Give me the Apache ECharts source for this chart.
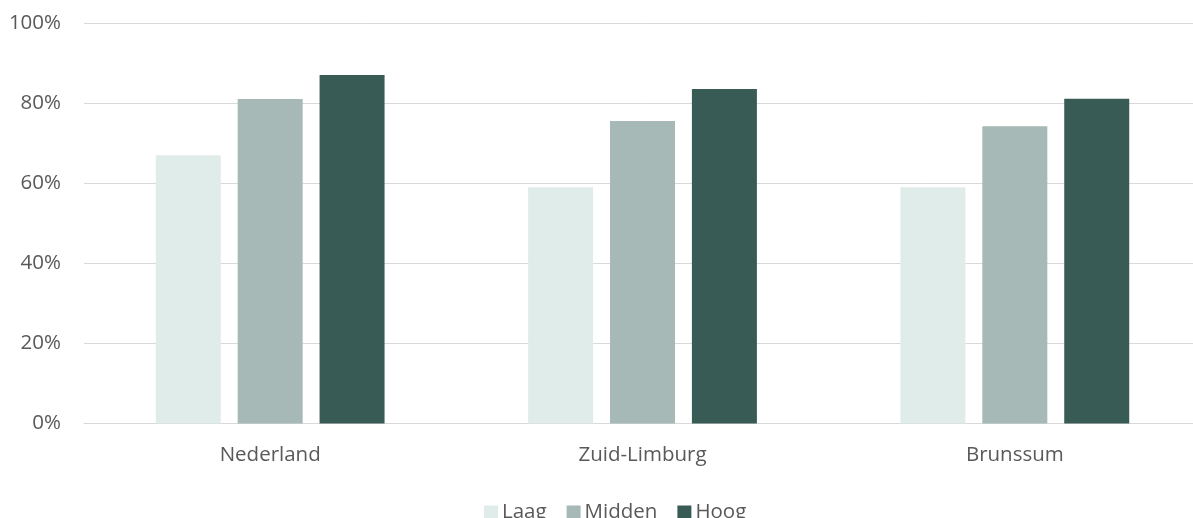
<!DOCTYPE html>
<html><head><meta charset="utf-8">
<script src="https://cdn.jsdelivr.net/npm/echarts@6/dist/echarts.min.js"></script>
<style>html,body{margin:0;padding:0;background:#fff;overflow:hidden;width:1193px;height:518px}#c{width:1201px;height:518px}</style>
</head><body><div id="c"></div>
<script>
const categories = ['Nederland', 'Zuid-Limburg', 'Brunssum'];
const seriesNames = ['Laag', 'Midden', 'Hoog'];
const laag = [67, 59, 59];
const midden = [81, 75.5, 74.2];
const hoog = [87, 83.5, 81.1];
const yTicks = [0, 20, 40, 60, 80, 100];

const colors = ['#E0ECE9', '#A6B9B6', '#395B55'];
const values = [laag, midden, hoog];
const font = 'Open Sans';

const chart = echarts.init(document.getElementById('c'), null, {renderer: 'canvas'});
chart.setOption({
  animation: false,
  grid: {left: 84, right: 0, top: 23, bottom: 94.5, containLabel: false},
  legend: {
    data: seriesNames,
    left: 479, top: 497,
    itemWidth: 14, itemHeight: 14, itemGap: 20,
    icon: 'rect',
    textStyle: {fontFamily: font, fontSize: 20.5, color: '#595959', padding: [0, 0, 0, -1]}
  },
  xAxis: {
    type: 'category', data: categories,
    axisLine: {lineStyle: {color: '#d9d9d9', width: 1}},
    axisTick: {show: false},
    axisLabel: {fontFamily: font, fontSize: 20.5, color: '#595959', margin: 21}
  },
  yAxis: {
    type: 'value', min: yTicks[0], max: yTicks[yTicks.length - 1], interval: 20,
    axisLine: {show: false}, axisTick: {show: false},
    splitLine: {lineStyle: {color: '#d9d9d9', width: 1}},
    axisLabel: {fontFamily: font, fontSize: 20.5, color: '#595959', margin: 23, formatter: v => v + '%'}
  },
  series: seriesNames.map((n, i) => ({
    name: n, type: 'bar', data: values[i],
    barWidth: 65, barGap: '26%',
    itemStyle: {color: colors[i]}
  }))
});
</script></body></html>
